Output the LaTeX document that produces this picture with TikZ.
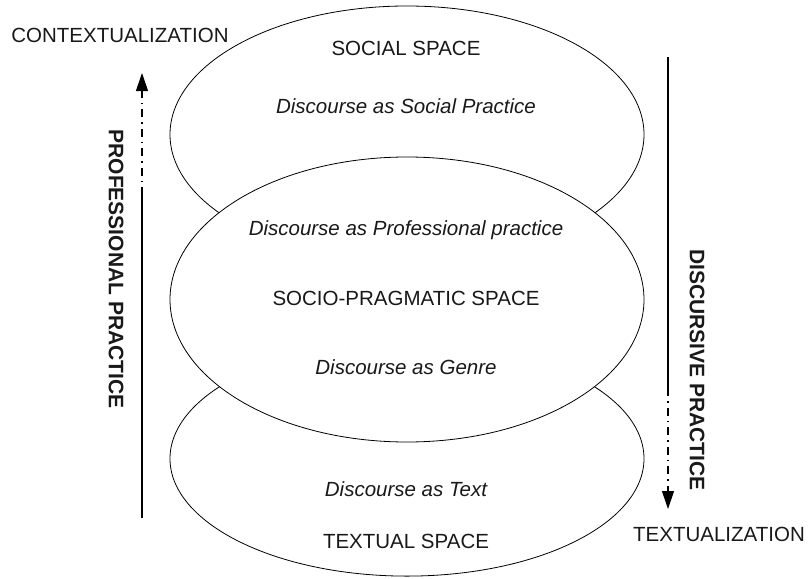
\documentclass[tikz,border=0pt]{standalone}
\usepackage{fontspec}
\setmainfont{Liberation Sans}
\usetikzlibrary{shapes.geometric,arrows.meta}
\begin{document}
\begin{tikzpicture}[x=1pt,y=-1pt,
  space/.style={ellipse,draw=black,line width=0.8pt,inner sep=0pt},
  lbl/.style={font=\fontsize{20.5}{24}\selectfont,text=black!90,inner sep=0pt},
  ilbl/.style={lbl,font=\fontsize{20.5}{24}\selectfont\itshape},
  side/.style={font=\fontsize{21}{24}\selectfont\bfseries,text=black!90,inner sep=0pt,rotate=-90},
  axis/.style={line width=1.1pt,black},
  dotdash/.style={axis,dash pattern=on 8pt off 5pt on 1.5pt off 5pt},
  tip/.style={-{Triangle[length=18pt,width=12pt]}}]
\useasboundingbox (0,0) rectangle (808,578);

% the three overlapping spaces; the middle one is drawn last and covers the others
\node[space,minimum width=474pt,minimum height=257pt] (social) at (407,134.5) {};
\node[space,minimum width=474pt,minimum height=235pt] (textual) at (407,458.6) {};
\node[space,fill=white,minimum width=474pt,minimum height=285pt] (socioprag) at (407,299.5) {};

% labels inside the spaces
\node[lbl]  (socialT)  at (406,48)  {SOCIAL SPACE};
\node[ilbl] (socialD)  at (406,106) {Discourse as Social Practice};
\node[ilbl] (profD)    at (406,230) {Discourse as Professional practice};
\node[lbl]  (spT)      at (406,298) {SOCIO-PRAGMATIC SPACE};
\node[ilbl] (genreD)   at (406,367) {Discourse as Genre};
\node[ilbl] (textD)    at (406,489) {Discourse as Text};
\node[lbl]  (textT)    at (406,541) {TEXTUAL SPACE};

% corner labels
\node[lbl] (ctx) at (120,35)  {CONTEXTUALIZATION};
\node[lbl] (txt) at (719,534) {TEXTUALIZATION};

% professional practice axis (upwards)
\coordinate (pb) at (142,518);
\coordinate (pm) at (142,195);
\coordinate (pt) at (142,73);
\draw[axis] (pb) -- (pm);
\draw[dotdash,tip] (pm) -- (pt);
\node[side] (prof) at (116,269) {PROFESSIONAL PRACTICE};

% discursive practice axis (downwards)
\coordinate (dt) at (668,57);
\coordinate (dm) at (668,388);
\coordinate (db) at (668,509);
\draw[axis] (dt) -- (dm);
\draw[dotdash,tip] (dm) -- (db);
\node[side] (disc) at (697,370) {DISCURSIVE PRACTICE};
\end{tikzpicture}
\end{document}
